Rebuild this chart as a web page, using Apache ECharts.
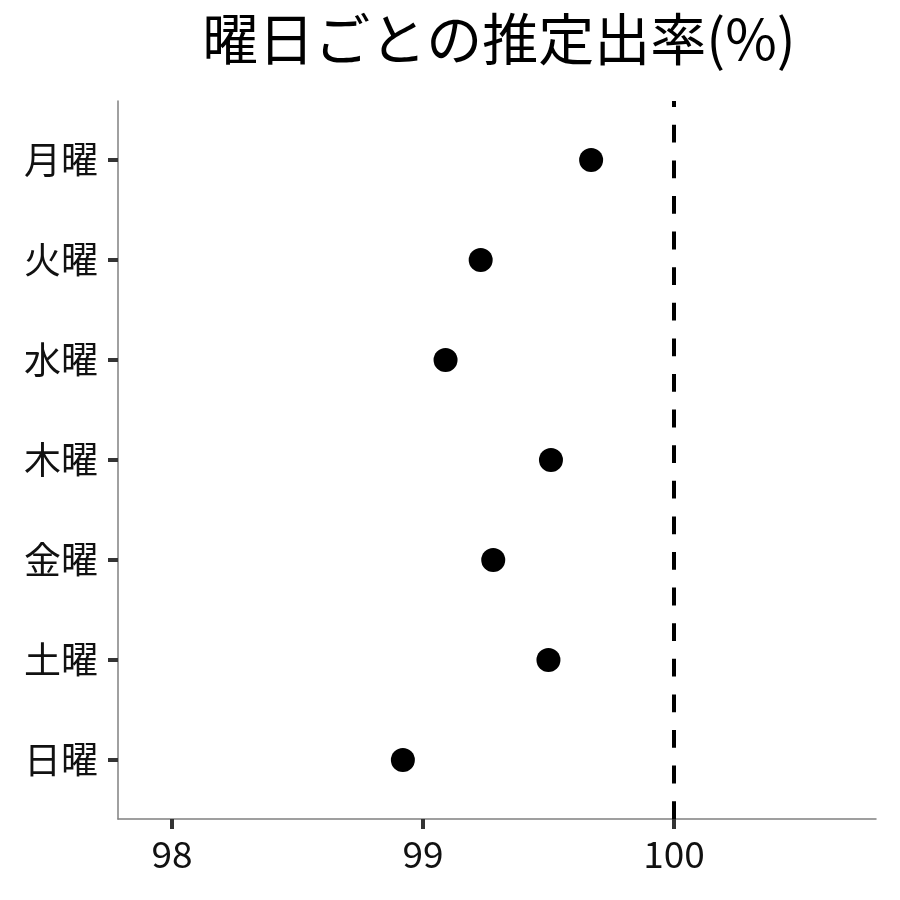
<!DOCTYPE html>
<html>
<head>
<meta charset="utf-8">
<script src="https://cdn.jsdelivr.net/npm/echarts@6/dist/echarts.min.js"></script>
<style>
  html, body { margin: 0; padding: 0; background: #fff; }
  #chart { width: 900px; height: 900px; }
</style>
</head>
<body>
<div id="chart"></div>
<script>
const days = ['月曜', '火曜', '水曜', '木曜', '金曜', '土曜', '日曜'];
const rates = [99.67, 99.23, 99.09, 99.51, 99.28, 99.50, 98.92];
const xTicks = [98, 99, 100];
const refLine = 100;

const font = 'Noto Sans CJK JP';
const chart = echarts.init(document.getElementById('chart'));

// top row = highest y value
const points = rates.map((v, i) => [v, days.length - i]);
const yTicks = days.map((d, i) => days.length - i);

const option = {
  animation: false,
  title: {
    text: '曜日ごとの推定出率(%)',
    left: 494,
    top: 6,
    textAlign: 'center',
    textStyle: { fontFamily: font, fontSize: 56, fontWeight: 'normal', color: '#000' }
  },
  grid: { left: 118, right: 24, top: 101, bottom: 81 },
  xAxis: {
    type: 'value',
    min: 97.785,
    max: 100.805,
    splitLine: { show: false },
    axisLine: { lineStyle: { color: '#808080', width: 1.5 } },
    axisTick: { customValues: xTicks, length: 10, lineStyle: { color: '#333', width: 4 } },
    axisLabel: {
      customValues: xTicks,
      margin: 16,
      fontFamily: font, fontSize: 37, color: '#111'
    }
  },
  yAxis: {
    type: 'value',
    min: 0.41,
    max: 7.59,
    splitLine: { show: false },
    axisLine: { show: true, lineStyle: { color: '#808080', width: 1.5 } },
    axisTick: { show: true, customValues: yTicks, length: 10, lineStyle: { color: '#333', width: 4 } },
    axisLabel: {
      customValues: yTicks,
      margin: 20,
      fontFamily: font, fontSize: 37, color: '#111',
      formatter: (val) => days[days.length - Math.round(val)]
    }
  },
  series: [
    {
      type: 'scatter',
      data: points,
      symbolSize: 24,
      itemStyle: { color: '#000', opacity: 1 },
      markLine: {
        silent: true,
        symbol: 'none',
        label: { show: false },
        lineStyle: { color: '#000', type: [17.8, 17.8], width: 4 },
        data: [{ xAxis: refLine }]
      }
    }
  ]
};

chart.setOption(option);
</script>
</body>
</html>
